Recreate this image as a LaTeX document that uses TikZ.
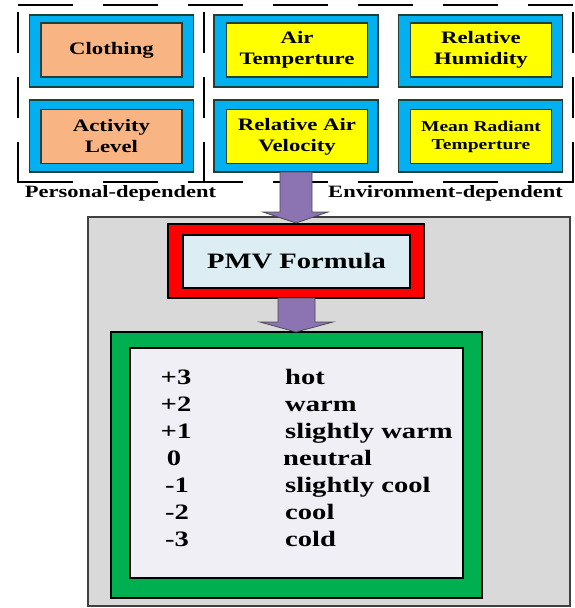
\documentclass[tikz,border=0pt]{standalone}
\usepackage{fontspec}
\setmainfont{Liberation Serif}[FakeStretch=1.3]
\definecolor{cyanc}{HTML}{00B0F0}
\definecolor{edgec}{HTML}{1F4035}
\definecolor{orangec}{HTML}{F8B482}
\definecolor{yellowc}{HTML}{FFFF00}
\definecolor{purplec}{HTML}{8C74B2}
\definecolor{greyc}{HTML}{D9D9D9}
\definecolor{redc}{HTML}{FF0000}
\definecolor{pmvc}{HTML}{DCEEF4}
\definecolor{greenc}{HTML}{00B050}
\definecolor{listc}{HTML}{F0EFF6}
\begin{document}
\begin{tikzpicture}[x=1pt,y=-1pt,
  dashline/.style={line width=1.8pt, black},
  outerbox/.style={draw=edgec, line width=1.6pt, fill=cyanc, minimum width=164pt, minimum height=72pt, inner sep=0pt},
  innerbox/.style={draw=edgec, line width=1.6pt, minimum width=141pt, minimum height=54pt, inner sep=0pt, align=center, text=black, font=\fontsize{17.5}{21}\selectfont\bfseries},
  pers/.style={innerbox, fill=orangec},
  envi/.style={innerbox, fill=yellowc},
  grouplabel/.style={font=\fontsize{17.3}{20}\selectfont\bfseries, inner sep=0pt},
  blockarrow/.style={fill=purplec, draw=black!70, line width=0.8pt},
  listnum/.style={font=\fontsize{22}{26}\selectfont\bfseries, anchor=base, inner sep=0pt},
  listtxt/.style={font=\fontsize{22}{26}\selectfont\bfseries, anchor=base west, inner sep=0pt}
]
\useasboundingbox (0,0) rectangle (575,608);
\fill[white] (0,0) rectangle (575,608);

% dashed group frames
\draw[dashline, dash pattern=on 55pt off 30pt] (18,5) -- (573,5);
\draw[dashline, dash pattern=on 55pt off 30pt] (18,182) -- (573,182);
\draw[dashline, dash pattern=on 41pt off 24pt] (18,12) -- (18,183);
\draw[dashline, dash pattern=on 41pt off 24pt] (204,12) -- (204,183);
\draw[dashline, dash pattern=on 41pt off 24pt] (573,12) -- (573,183);

% input boxes
\node[outerbox] (o1) at (111.5,51) {};
\node[pers] (clothing) at (111.5,50) {Clothing};
\node[outerbox] (o2) at (111.5,136) {};
\node[pers] (activity) at (111.5,136.5) {Activity\\Level};
\node[outerbox] (o3) at (296,51) {};
\node[envi] (airtemp) at (297,50) {Air\\Temperture};
\node[outerbox] (o4) at (296,136) {};
\node[envi] (airvel) at (297,136.5) {Relative Air\\Velocity};
\node[outerbox] (o5) at (480.5,51) {};
\node[envi] (humid) at (481,50) {Relative\\Humidity};
\node[outerbox] (o6) at (480.5,136) {};
\node[envi, font=\fontsize{15}{18}\selectfont\bfseries] (mrt) at (481,136.5) {Mean Radiant\\Temperture};

\node[grouplabel] (plabel) at (120.5,193) {Personal-dependent};
\node[grouplabel] (elabel) at (445.5,193) {Environment-dependent};

% main grey panel
\node[draw=black!75, line width=1.4pt, fill=greyc, minimum width=482pt, minimum height=389pt, inner sep=0pt] (panel) at (329,411.5) {};

% PMV formula
\node[draw=black, line width=1.8pt, fill=redc, minimum width=256pt, minimum height=74pt, inner sep=0pt] (pmvout) at (296,261) {};
\node[draw=black, line width=1.8pt, fill=pmvc, minimum width=227pt, minimum height=53pt, inner sep=0pt, font=\fontsize{22}{26}\selectfont\bfseries] (pmv) at (296.5,261.5) {PMV Formula};

% output scale
\node[draw=black, line width=1.8pt, fill=greenc, minimum width=371pt, minimum height=266pt, inner sep=0pt] (scaleout) at (296.5,465) {};
\node[draw=black, line width=2.6pt, fill=listc, minimum width=333pt, minimum height=230pt, inner sep=0pt] (scale) at (296.5,463) {};

\node[listnum] (n1) at (176,384) {+3};
\node[listnum] (n2) at (176,411) {+2};
\node[listnum] (n3) at (176,438) {+1};
\node[listnum] (n4) at (174,465) {0};
\node[listnum] (n5) at (177,492) {-1};
\node[listnum] (n6) at (177,519) {-2};
\node[listnum] (n7) at (177,546) {-3};
\node[listtxt] (t1) at (285,384) {hot};
\node[listtxt] (t2) at (285,411) {warm};
\node[listtxt] (t3) at (285,438) {slightly warm};
\node[listtxt] (t4) at (283,465) {neutral};
\node[listtxt] (t5) at (285,492) {slightly cool};
\node[listtxt] (t6) at (285,519) {cool};
\node[listtxt] (t7) at (285,546) {cold};

% block arrows
\draw[blockarrow] (280,172) -- (312,172) -- (312,212) -- (328,212) -- (296,223) -- (263,212) -- (280,212) -- cycle;
\draw[blockarrow] (278,298) -- (315,298) -- (315,322) -- (333,322) -- (296,332) -- (260,322) -- (278,322) -- cycle;
\end{tikzpicture}
\end{document}
